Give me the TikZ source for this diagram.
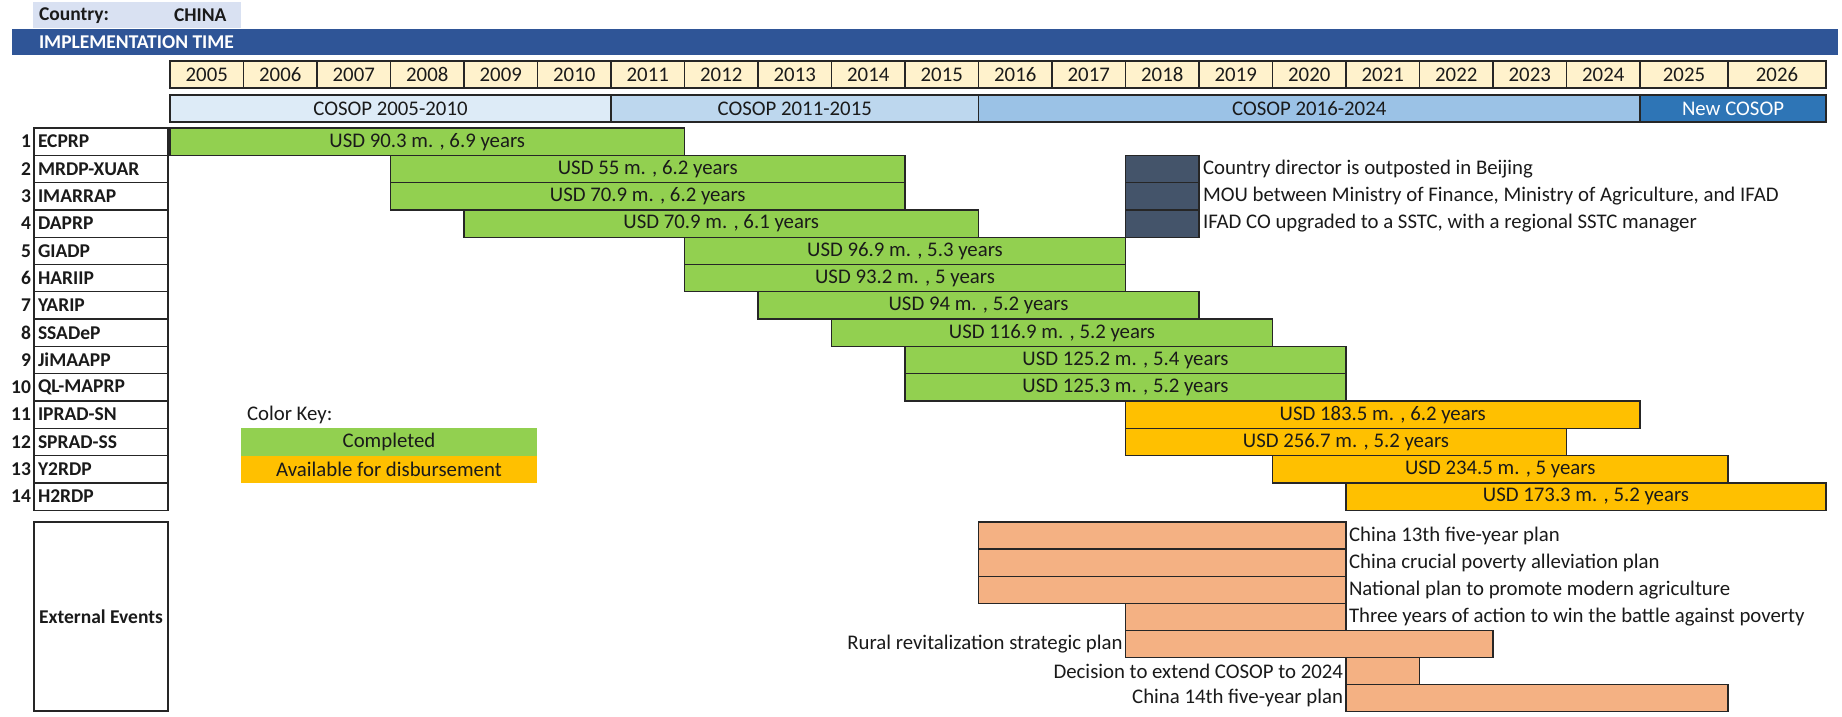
\documentclass[tikz,border=0pt]{standalone}
\usepackage{fontspec}
\setmainfont{Carlito}
\definecolor{countryfill}{HTML}{D9E1F2}
\definecolor{headblue}{HTML}{2F5597}
\definecolor{yearfill}{HTML}{FFF2CC}
\definecolor{cosopa}{HTML}{DDEBF7}
\definecolor{cosopb}{HTML}{BDD7EE}
\definecolor{cosopc}{HTML}{9BC2E6}
\definecolor{cosopd}{HTML}{2E75B6}
\definecolor{donegreen}{HTML}{92D050}
\definecolor{availorange}{HTML}{FFC000}
\definecolor{eventfill}{HTML}{F4B183}
\definecolor{slate}{HTML}{44546A}
\definecolor{edge}{HTML}{262626}
\definecolor{ink}{HTML}{1A1A1A}
\newcommand\fs{\fontsize{20.8}{24}\selectfont}
\newcommand\fsb{\fontsize{19.5}{23}\selectfont\bfseries}
\newcommand\cxpos[1]{\ifnum#1<21 \pgfmathsetmacro\cxv{170+73.5*#1}\else\ifnum#1=21 \def\cxv{1728}\else\def\cxv{1826}\fi\fi}
% #1 name, #2 first column, #3 end column, #4 top y, #5 height, #6 style, #7 text
\newcommand\cellbox[7]{\cxpos{#2}\let\xa\cxv\cxpos{#3}\let\xb\cxv
  \pgfmathsetmacro\ww{\xb-\xa}
  \node[#6, minimum width=\ww pt, minimum height=#5pt, anchor=north west] (#1) at (\xa,#4) {#7};}
\tikzset{
  every node/.style={inner sep=0pt, outer sep=0pt, font=\fs, text=ink},
  gridcell/.style={draw=edge, line width=1.3pt, rectangle},
  yearcell/.style={gridcell, fill=yearfill},
  donebar/.style={gridcell, fill=donegreen},
  availbar/.style={gridcell, fill=availorange},
  eventbar/.style={gridcell, fill=eventfill},
  slatebox/.style={gridcell, fill=slate},
  labelbox/.style={draw=edge, line width=1.3pt, fill=white, minimum width=134pt, minimum height=27.3pt, anchor=north west},
  boldtxt/.style={font=\fsb},
}
\begin{document}
\begin{tikzpicture}[x=1pt,y=-1pt]
\useasboundingbox[fill=white] (0,0) rectangle (1842,716);
% header
\node[fill=countryfill, minimum width=208pt, minimum height=26pt, anchor=north west] (country) at (33,2) {};
\node[boldtxt, anchor=west] (countrylbl) at (39,15.5) {Country:};
\node[boldtxt, anchor=west] (china) at (174,15.5) {CHINA};
\node[fill=headblue, minimum width=1826pt, minimum height=26pt, anchor=north west] (impl) at (12,29) {};
\node[boldtxt, anchor=west, text=white] (impllbl) at (39,42.5) {IMPLEMENTATION TIME};
% years
\foreach \i in {0,...,21}{
  \pgfmathtruncatemacro\yr{2005+\i}
  \pgfmathtruncatemacro\j{\i+1}
  \cellbox{y\yr}{\i}{\j}{61}{27}{yearcell}{\yr}
}
% COSOP periods
\cellbox{cosop1}{0}{6}{95}{27}{gridcell, fill=cosopa}{COSOP 2005-2010}
\cellbox{cosop2}{6}{11}{95}{27}{gridcell, fill=cosopb}{COSOP 2011-2015}
\cellbox{cosop3}{11}{20}{95}{27}{gridcell, fill=cosopc}{COSOP 2016-2024}
\cellbox{cosop4}{20}{22}{95}{27}{gridcell, fill=cosopd, text=white}{New COSOP}
% project labels
\foreach \n/\lab in {1/ECPRP,2/MRDP-XUAR,3/IMARRAP,4/DAPRP,5/GIADP,6/HARIIP,7/YARIP,8/SSADeP,9/JiMAAPP,10/QL-MAPRP,11/IPRAD-SN,12/SPRAD-SS,13/Y2RDP,14/H2RDP}{
  \pgfmathsetmacro\ty{128+27.3*(\n-1)}
  \node[labelbox] (lab\n) at (34,\ty) {};
  \node[boldtxt, anchor=west] (labt\n) at ([xshift=4pt]lab\n.west) {\lab};
  \node[boldtxt, anchor=east] (num\n) at ([xshift=-3pt]lab\n.west) {\n};
}
% project bars
\foreach \n/\a/\b/\sty/\txt in {
  1/0/7/donebar/{USD 90.3 m. , 6.9 years},
  2/3/10/donebar/{USD 55 m. , 6.2 years},
  3/3/10/donebar/{USD 70.9 m. , 6.2 years},
  4/4/11/donebar/{USD 70.9 m. , 6.1 years},
  5/7/13/donebar/{USD 96.9 m. , 5.3 years},
  6/7/13/donebar/{USD 93.2 m. , 5 years},
  7/8/14/donebar/{USD 94 m. , 5.2 years},
  8/9/15/donebar/{USD 116.9 m. , 5.2 years},
  9/10/16/donebar/{USD 125.2 m. , 5.4 years},
  10/10/16/donebar/{USD 125.3 m. , 5.2 years},
  11/13/20/availbar/{USD 183.5 m. , 6.2 years},
  12/13/19/availbar/{USD 256.7 m. , 5.2 years},
  13/15/21/availbar/{USD 234.5 m. , 5 years},
  14/16/22/availbar/{USD 173.3 m. , 5.2 years}}{
  \pgfmathsetmacro\ty{128+27.3*(\n-1)}
  \cellbox{bar\n}{\a}{\b}{\ty}{27.3}{\sty}{\txt}
}
% office milestones
\foreach \n/\txt in {2/{Country director is outposted in Beijing},
  3/{MOU between Ministry of Finance, Ministry of Agriculture, and IFAD},
  4/{IFAD CO upgraded to a SSTC, with a regional SSTC manager}}{
  \pgfmathsetmacro\ty{128+27.3*(\n-1)}
  \cellbox{ms\n}{13}{14}{\ty}{27.3}{slatebox}{}
  \node[anchor=west] (mst\n) at ([xshift=4pt]ms\n.east) {\txt};
}
% colour key
\node[anchor=west] (keytitle) at (247,414.5) {Color Key:};
\node[fill=donegreen, minimum width=296pt, minimum height=27.3pt, anchor=north west] (keydone) at (241,428.3) {Completed};
\node[fill=availorange, minimum width=296pt, minimum height=27.3pt, anchor=north west] (keyavail) at (241,455.6) {Available for disbursement};
% external events
\node[draw=edge, line width=1.3pt, fill=white, minimum width=134pt, minimum height=189pt, anchor=north west, boldtxt] (ext) at (34,522) {External Events};
\foreach \n/\a/\b/\side/\txt in {
  1/11/16/r/{China 13th five-year plan},
  2/11/16/r/{China crucial poverty alleviation plan},
  3/11/16/r/{National plan to promote modern agriculture},
  4/13/16/r/{Three years of action to win the battle against poverty},
  5/13/18/l/{Rural revitalization strategic plan},
  6/16/17/l/{Decision to extend COSOP to 2024},
  7/16/21/l/{China 14th five-year plan}}{
  \pgfmathsetmacro\ty{522+27.1*(\n-1)}
  \cellbox{ev\n}{\a}{\b}{\ty}{27.1}{eventbar}{}
  \if\side r
    \node[anchor=west] (evt\n) at ([xshift=3pt]ev\n.east) {\txt};
  \else
    \node[anchor=east] (evt\n) at ([xshift=-3pt]ev\n.west) {\txt};
  \fi
}
\end{tikzpicture}
\end{document}
